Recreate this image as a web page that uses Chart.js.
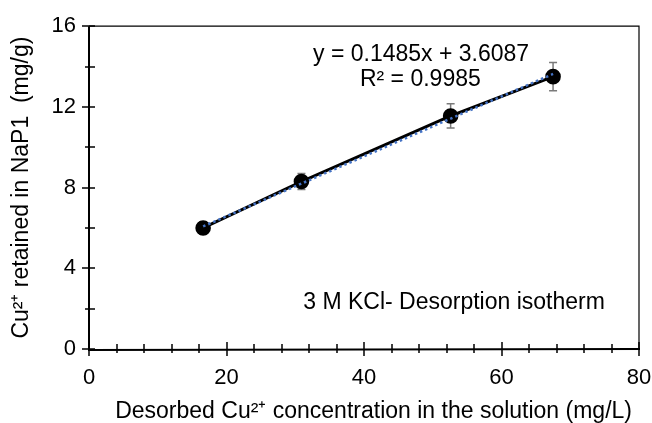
<!DOCTYPE html>
<html><head><meta charset="utf-8">
<script src="https://cdn.jsdelivr.net/npm/chart.js@4/dist/chart.umd.min.js"></script>
<style>html,body{margin:0;padding:0;background:#fff}#wrap{width:652px;height:423px}</style>
</head><body><div id="wrap"><canvas id="c" width="652" height="423"></canvas></div>
<script>
// ---- data ----
const xValues = [16.6, 30.9, 52.6, 67.5];          // desorbed Cu2+ in solution (mg/L)
const yValues = [6.0, 8.3, 11.55, 13.5];           // Cu2+ retained in NaP1 (mg/g)
const yErrors = [0.3, 0.4, 0.6, 0.7];              // error bar half-heights
const trendSlope = 0.1485;
const trendIntercept = 3.6087;
const xTickValues = [0, 20, 40, 60, 80];
const yTickValues = [0, 4, 8, 12, 16];
const xMinorStep = 4;
const yMinorStep = 2;
const equationText = 'y = 0.1485x + 3.6087';
const r2Text = 'R² = 0.9985';
const noteText = '3 M KCl- Desorption isotherm';
const xTitle = 'Desorbed Cu²⁺ concentration in the solution (mg/L)';
const yTitle = 'Cu²⁺ retained in NaP1  (mg/g)';

const measured = xValues.map((x, i) => ({x, y: yValues[i]}));
const xFirst = Math.min(...xValues), xLast = Math.max(...xValues);
const trend = [xFirst, xLast].map(x => ({x, y: trendSlope * x + trendIntercept}));

const FONT = "'Liberation Sans', Arial, Helvetica, sans-serif";

const decor = {
  id: 'decor',
  beforeDatasetsDraw(chart) {
    const {ctx, scales: {x, y}} = chart;
    ctx.save();
    ctx.strokeStyle = '#7a7a7a';
    ctx.lineWidth = 1.5;
    xValues.forEach((xv, i) => {
      const px = x.getPixelForValue(xv);
      const top = y.getPixelForValue(yValues[i] + yErrors[i]);
      const bot = y.getPixelForValue(yValues[i] - yErrors[i]);
      ctx.beginPath();
      ctx.moveTo(px, top); ctx.lineTo(px, bot);
      ctx.moveTo(px - 4, top); ctx.lineTo(px + 4, top);
      ctx.moveTo(px - 4, bot); ctx.lineTo(px + 4, bot);
      ctx.stroke();
    });
    ctx.restore();
  },
  afterDraw(chart) {
    const {ctx, chartArea: a, scales: {x, y}} = chart;
    ctx.save();
    ctx.strokeStyle = '#000';
    ctx.lineWidth = 1.2;
    ctx.beginPath();
    ctx.moveTo(a.left, a.top); ctx.lineTo(a.right, a.top); ctx.lineTo(a.right, a.bottom);
    ctx.stroke();
    ctx.lineWidth = 2;
    ctx.beginPath();
    ctx.moveTo(a.left, a.top); ctx.lineTo(a.left, a.bottom + 1); ctx.lineTo(a.right + 1, a.bottom);
    ctx.stroke();
    ctx.lineWidth = 1.5;
    ctx.beginPath();
    for (let v = y.min; v <= y.max + 1e-9; v += yMinorStep) {
      const py = Math.round(y.getPixelForValue(v));
      const major = yTickValues.includes(v);
      ctx.moveTo(a.left - (major ? 7 : 4), py);
      ctx.lineTo(a.left + 6, py);
    }
    for (let v = x.min; v <= x.max + 1e-9; v += xMinorStep) {
      const px = Math.round(x.getPixelForValue(v));
      const major = xTickValues.includes(v);
      ctx.moveTo(px, a.bottom - (major ? 7 : 5));
      ctx.lineTo(px, a.bottom + (major ? 7 : 4));
    }
    ctx.stroke();
    ctx.fillStyle = '#000';
    ctx.font = '23px ' + FONT;
    ctx.textAlign = 'center';
    ctx.textBaseline = 'middle';
    ctx.fillText(equationText, x.getPixelForValue(48.3), y.getPixelForValue(14.6));
    ctx.fillText(r2Text, x.getPixelForValue(48.2), y.getPixelForValue(13.35));
    ctx.fillText(noteText, x.getPixelForValue(53.1), y.getPixelForValue(2.3));
    ctx.restore();
  }
};

new Chart(document.getElementById('c'), {
  type: 'scatter',
  data: {
    datasets: [
      {
        label: 'trend',
        data: trend,
        showLine: true,
        borderColor: '#4472c4',
        borderWidth: 2.5,
        borderDash: [2.5, 3],
        pointRadius: 0,
        order: 0
      },
      {
        label: 'measured',
        data: measured,
        showLine: true,
        borderColor: '#000',
        borderWidth: 3,
        pointRadius: 6.3,
        pointBackgroundColor: '#000',
        pointBorderColor: '#000',
        order: 1
      }
    ]
  },
  options: {
    responsive: false,
    animation: false,
    layout: {padding: {top: 23, right: 13, left: 8, bottom: 0}},
    plugins: {legend: {display: false}, tooltip: {enabled: false}},
    scales: {
      x: {
        type: 'linear', min: 0, max: 80,
        afterBuildTicks(s) { s.ticks = xTickValues.map(v => ({value: v})); },
        afterFit(s) { s.height = 74; s.paddingRight = 0; s.paddingLeft = 0; },
        grid: {display: false, drawTicks: false},
        border: {display: false},
        ticks: {color: '#000', font: {family: FONT, size: 22}, padding: 16, maxRotation: 0},
        title: {display: true, text: '   ' + xTitle, color: '#000', font: {family: FONT, size: 23, lineHeight: 1}, padding: {top: 0, bottom: 0}}
      },
      y: {
        type: 'linear', min: 0, max: 16,
        afterBuildTicks(s) { s.ticks = yTickValues.map(v => ({value: v})); },
        afterFit(s) { s.width = 81; },
        grid: {display: false, drawTicks: false},
        border: {display: false},
        ticks: {color: '#000', font: {family: FONT, size: 22}, padding: 13},
        title: {display: true, text: yTitle, color: '#000', font: {family: FONT, size: 23}, padding: {top: 0, bottom: 0}}
      }
    }
  },
  plugins: [decor]
});
</script>
</body></html>
